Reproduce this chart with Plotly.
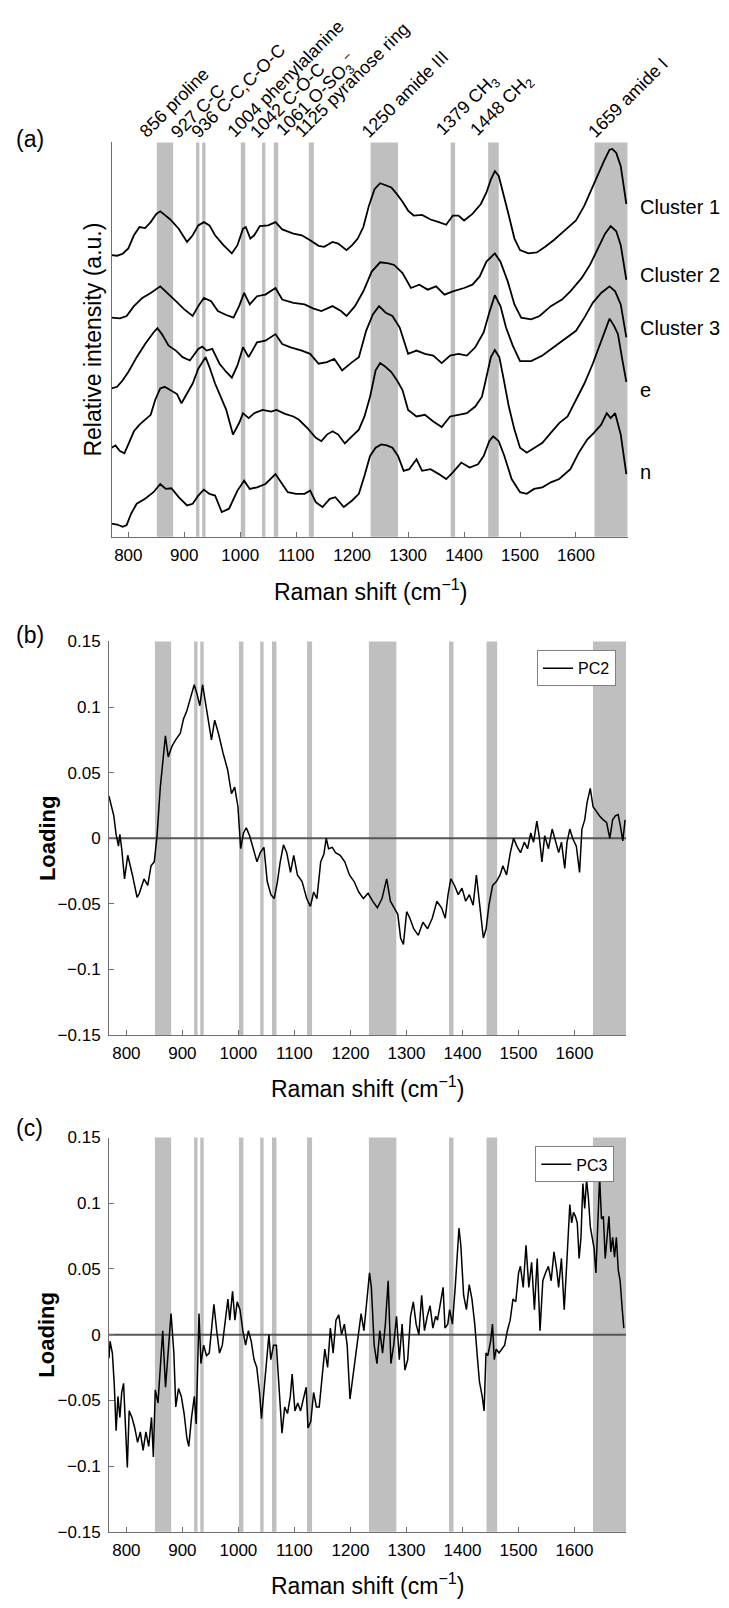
import plotly.graph_objects as go

# ---------------- data ----------------
# shaded Raman bands (cm-1)
band_lo = [851, 921, 932, 1001, 1039, 1060, 1122.5, 1233, 1376, 1443, 1633]
band_hi = [880, 927, 938, 1009, 1045, 1068, 1131.5, 1282, 1384, 1462, 1692]
peak_wn = [856, 927, 936, 1004, 1042, 1061, 1125, 1250, 1379, 1448, 1659]
peak_names = ["proline", "C-C", "C-C,C-O-C", "phenylalanine", "C-O-C",
              "O-SO<sub>3</sub><sup>−</sup>", "pyranose ring", "amide III",
              "CH<sub>3</sub>", "CH<sub>2</sub>", "amide I"]

spectrum_names = ["Cluster 1", "Cluster 2", "Cluster 3", "e", "n"]

# (wavenumber, relative intensity a.u.) – offset spectra as displayed
cluster1 = [(770,85.5),(780,85.3),(790,85.9),(800,87.5),(810,91.5),(820,94),(830,93.7),(840,95.5),(850,98),(857,98.8),
            (865,97.7),(875,96.3),(890,93.5),(905,89.5),(915,91.5),(925,94.5),(935,95.5),(945,94.5),(955,91.5),(970,88.5),
            (985,86),(995,88.5),(1005,93.5),(1010,94),(1018,90.5),(1025,91.5),(1035,94.3),(1050,94.5),(1063,95.5),(1075,93.3),
            (1095,92),(1110,91.5),(1125,90),(1140,88.3),(1150,88),(1165,89.5),(1175,89),(1190,87),(1200,88.5),(1210,90.5),
            (1220,94),(1230,100.5),(1240,105.5),(1250,107.3),(1260,106.7),(1270,106),(1280,104),(1290,101.7),(1300,99),(1310,97.5),
            (1325,97.7),(1340,96.3),(1355,95.5),(1368,94.7),(1380,97.5),(1390,97.5),(1400,96),(1415,98),(1430,101),(1440,104.5),
            (1448,108.5),(1455,111),(1462,109.5),(1470,104.5),(1480,97.5),(1490,90.5),(1500,87),(1515,86),(1530,86.3),(1545,88),
            (1560,90),(1580,93),(1600,96),(1615,100.5),(1630,106.5),(1640,110),(1650,114),(1660,117.5),(1665,117.7),(1672,116.5),
            (1680,112.5),(1690,101)]

cluster2 = [(770,66.5),(785,66.3),(797,67),(810,70),(825,72.5),(840,74),(857,76),(870,74),(885,71.5),(900,69),(915,67),
            (925,70),(935,72.5),(948,71.5),(960,68.5),(975,67.3),(988,66.5),(998,70),(1007,74),(1017,70.5),(1030,73),(1045,73.5),
            (1063,75.5),(1075,72),(1095,71),(1115,70.5),(1130,69.3),(1145,68.5),(1165,70),(1180,68.5),(1190,67),(1205,70),
            (1220,74.5),(1235,80.5),(1250,83.3),(1265,83),(1275,82.5),(1290,80),(1305,75.5),(1320,76.5),(1335,75),(1350,76),
            (1365,73.5),(1380,74.5),(1400,75.5),(1415,76.5),(1428,79),(1440,83.5),(1455,86),(1465,83.5),(1478,77.5),(1490,70.5),
            (1502,66.5),(1520,66),(1535,67),(1555,70),(1575,72),(1590,74.5),(1610,78.5),(1625,82.5),(1640,88),(1652,92),
            (1662,94.3),(1672,92.7),(1680,88.5),(1690,78)]

cluster3 = [(770,45),(780,45.5),(790,47.5),(800,50),(815,54.5),(830,58.5),(845,62),(852,63.3),(860,61.5),(872,58),(885,56.5),
            (897,54.5),(910,53.5),(925,57),(932,57.7),(940,56.5),(950,57),(963,52.5),(975,50),(985,48.3),(995,52),(1005,57.5),
            (1015,54.5),(1030,59),(1045,59.5),(1063,61.5),(1075,58.5),(1090,57.5),(1110,56.5),(1125,55.5),(1140,52.5),(1155,53),
            (1168,54),(1182,50.5),(1200,53),(1212,54.5),(1225,62.5),(1237,67.5),(1248,70),(1260,68),(1272,67),(1285,63.5),
            (1300,55.5),(1315,56.5),(1330,55.5),(1345,55),(1360,52.7),(1375,55),(1390,55.5),(1405,55),(1420,57.5),(1435,62),
            (1445,68),(1455,73.3),(1465,70),(1475,63.5),(1487,58),(1500,53.3),(1520,53.3),(1540,55),(1560,57.5),(1580,60),
            (1600,62.5),(1615,66.5),(1630,71),(1645,74),(1660,76),(1670,74.5),(1680,70.5),(1690,60.5)]

spec_e = [(770,27),(777,27.7),(785,26),(793,25.3),(800,28),(810,32),(820,34),(830,35.5),(840,37),(848,41.5),(857,45),
          (865,45.5),(875,44.5),(887,43.3),(895,40.5),(905,43.5),(915,46.5),(925,51),(930,52.5),(938,54.5),(945,51.5),
          (955,46.5),(965,42.5),(975,38.5),(987,31),(998,34.5),(1005,37.5),(1015,36),(1025,37.5),(1040,38.5),(1055,38),
          (1065,38.5),(1080,37.3),(1095,36.5),(1105,35.5),(1120,33),(1135,30),(1145,29),(1155,31),(1165,32),(1175,31),
          (1187,28.3),(1200,30.5),(1212,32.5),(1222,36.5),(1232,42.5),(1242,50.5),(1250,52.7),(1260,51.5),(1270,50),
          (1280,47.5),(1290,44.5),(1300,38.5),(1315,36.5),(1330,37),(1345,35),(1360,33.3),(1375,36.5),(1390,37),(1405,37.5),
          (1420,39.5),(1432,42.5),(1440,48.5),(1448,54.5),(1455,56.7),(1463,54.5),(1470,48.5),(1480,39.5),(1490,32.5),
          (1500,27),(1512,25.5),(1525,27),(1540,28.5),(1555,31.5),(1570,34.5),(1585,36.5),(1600,41.5),(1615,46.5),
          (1630,52.5),(1642,58),(1652,63),(1660,66.2),(1668,64),(1675,61.5),(1682,54.5),(1690,47)]

spec_n = [(770,4),(780,3.7),(790,3),(797,3.5),(805,7),(815,10),(830,11.5),(845,13.5),(857,16),(867,14.5),(877,14.7),
          (890,12),(905,9.5),(915,10),(925,12.5),(935,14.3),(945,13),(955,12.5),(967,7.5),(980,8.5),(995,14),(1007,17),
          (1017,14.5),(1030,15),(1045,16),(1063,19),(1075,16),(1085,13.5),(1100,13),(1115,13),(1125,14),(1135,10.5),
          (1147,9),(1160,11.5),(1170,12),(1185,9),(1200,11),(1212,13),(1222,18.5),(1232,24.5),(1242,27),(1252,28),
          (1262,27.7),(1272,27),(1282,24.5),(1292,20),(1302,20.5),(1315,23.5),(1325,20),(1340,20.5),(1355,19),(1368,17.5),
          (1380,19.5),(1395,22.5),(1410,21),(1425,22),(1435,24.5),(1445,29),(1452,30.5),(1462,29),(1472,24.5),(1485,17.5),
          (1500,13.5),(1512,13),(1525,14.5),(1540,15),(1555,16.5),(1570,17.5),(1590,20.5),(1605,25.5),(1620,29.5),
          (1632,31.5),(1645,34),(1655,37.5),(1662,36),(1670,37.5),(1680,31),(1690,19)]

# (wavenumber, loading)
pc2 = [(769,0.032),(773.4,0.024),(777.6,0.017),(781.7,0.003),(785.9,-0.006),(788.4,0.003),(791.7,-0.008),(796.7,-0.031),
       (802.5,-0.013),(810.8,-0.028),(819.1,-0.045),(823.2,-0.042),(831.5,-0.031),(838.2,-0.036),(844,-0.021),(849.8,-0.018),
       (854.8,0.002),(860.6,0.039),(866.4,0.067),(869.7,0.078),(874.7,0.062),(881.3,0.07),(888,0.075),(896.3,0.08),
       (902.1,0.091),(907.9,0.097),(914.5,0.107),(921.2,0.117),(926.1,0.11),(931.1,0.101),(936.1,0.117),(943.6,0.097),
       (951.9,0.075),(957.7,0.09),(964.3,0.08),(972.6,0.065),(980.9,0.052),(987.6,0.034),(993.4,0.039),(999.2,0.024),
       (1004.1,-0.008),(1009.1,0.004),(1014.1,0.008),(1019.9,0.002),(1026.6,-0.008),(1033.2,-0.018),(1039,-0.011),
       (1045.6,-0.007),(1051.5,-0.033),(1058.1,-0.043),(1063.9,-0.046),(1069.7,-0.033),(1074.7,-0.018),(1080.5,-0.005),
       (1086.3,-0.011),(1093,-0.026),(1098.8,-0.013),(1105.4,-0.028),(1113.7,-0.033),(1122,-0.046),(1128.6,-0.052),
       (1134.4,-0.041),(1140.2,-0.046),(1146.9,-0.018),(1152.7,-0.012),(1156.8,0.0),(1161,-0.008),(1167.6,-0.007),
       (1173.4,-0.011),(1181.7,-0.013),(1190,-0.018),(1198.3,-0.028),(1206.6,-0.033),(1214.9,-0.041),(1223.2,-0.046),
       (1231.5,-0.042),(1239.8,-0.048),(1248.1,-0.053),(1256.4,-0.046),(1264.7,-0.031),(1271.4,-0.048),(1278,-0.053),
       (1284.6,-0.058),(1289.6,-0.076),(1294.6,-0.081),(1300.4,-0.056),(1306.2,-0.061),(1312.9,-0.069),(1321.2,-0.074),
       (1329.5,-0.064),(1337.8,-0.069),(1346.1,-0.061),(1354.4,-0.048),(1362.7,-0.053),(1369.3,-0.061),(1374.3,-0.043),
       (1379.3,-0.031),(1385.9,-0.036),(1392.5,-0.043),(1399.2,-0.038),(1405.8,-0.048),(1412.4,-0.043),(1419.1,-0.051),
       (1424.9,-0.028),(1430.7,-0.053),(1437.3,-0.076),(1442.3,-0.069),(1447.3,-0.051),(1453.9,-0.036),(1460.6,-0.033),
       (1467.2,-0.028),(1472.2,-0.021),(1478.8,-0.028),(1485.5,-0.011),(1491.3,0.0),(1497.1,-0.006),(1503.7,-0.011),
       (1510.4,-0.003),(1516.2,-0.008),(1522,0.004),(1527,-0.003),(1532.8,0.013),(1536.9,0.002),(1541.9,-0.018),
       (1546.9,0.002),(1553.5,-0.008),(1560.2,0.007),(1566,-0.003),(1571.8,-0.011),(1576.8,-0.003),(1582.6,-0.023),
       (1586.7,-0.003),(1591.7,0.007),(1596.7,0.0),(1603.3,-0.006),(1609.1,-0.026),(1613.3,0.007),(1618.3,0.014),
       (1622.4,0.027),(1628.2,0.038),(1633.2,0.024),(1638.2,0.021),(1644.8,0.017),(1651.5,0.014),(1657.3,0.012),
       (1663.1,0.0),(1668.1,0.014),(1673,0.017),(1678,0.018),(1682.1,0.009),(1686.3,-0.002),(1690.4,0.014)]

pc3 = [(769,-0.018),(770.9,-0.005),(775,-0.014),(778.4,-0.038),(781.7,-0.073),(785,-0.047),(788.4,-0.063),(791.7,-0.044),
       (795,-0.037),(798.3,-0.074),(801.7,-0.101),(805,-0.058),(810,-0.063),(815,-0.071),(820,-0.082),(824.9,-0.074),
       (829.9,-0.088),(834.9,-0.074),(839.9,-0.085),(844.9,-0.063),(848.2,-0.093),(851.6,-0.042),(856.5,-0.052),
       (861.5,-0.019),(864.9,0.003),(869.9,-0.04),(874.8,-0.011),(879.8,0.016),(884.8,-0.014),(888.2,-0.055),(893.1,-0.041),
       (898.1,-0.047),(903.1,-0.06),(908.1,-0.079),(911.4,-0.085),(916.4,-0.063),(921.4,-0.047),(924.7,-0.068),(929.7,0.016),
       (933.1,-0.022),(938,-0.008),(943,-0.016),(948,-0.014),(953,0.008),(956.3,0.023),(961.3,0.003),(966.3,-0.014),
       (971.3,-0.008),(976.3,0.011),(981.3,0.027),(984.6,0.011),(989.6,0.033),(993.8,0.011),(997.9,0.025),(1002.9,0.019),
       (1007.9,0.003),(1012.9,-0.008),(1017.9,0.003),(1022.9,-0.005),(1027.9,-0.019),(1032.8,-0.025),(1037.8,-0.044),
       (1041.2,-0.064),(1044.5,-0.047),(1049.5,-0.025),(1054.5,0.0),(1057.8,-0.019),(1062.8,-0.008),(1067.8,-0.008),
       (1072.8,-0.041),(1077.8,-0.075),(1082.7,-0.055),(1087.7,-0.06),(1092.7,-0.047),(1096,-0.03),(1101,-0.058),
       (1106,-0.052),(1111,-0.058),(1116,-0.049),(1121,-0.04),(1124.3,-0.071),(1129.3,-0.066),(1134.3,-0.044),
       (1139.3,-0.055),(1144.3,-0.055),(1149.3,-0.03),(1154.3,-0.011),(1159.3,-0.025),(1164.2,0.005),(1169.2,-0.014),
       (1174.2,0.011),(1179.2,0.015),(1184.2,0.0),(1189.2,0.008),(1194.2,-0.008),(1199.2,-0.049),(1204.2,-0.033),
       (1209.1,-0.016),(1214.1,-0.003),(1219.1,0.016),(1224.1,0.003),(1229.1,0.025),(1234.1,0.047),(1237.4,0.036),
       (1242.4,-0.008),(1247.4,-0.022),(1252.4,0.003),(1257.4,-0.014),(1262.4,0.008),(1267.4,0.041),(1272.3,-0.022),
       (1277.3,-0.008),(1282.3,0.014),(1287.3,-0.019),(1292.3,0.008),(1297.3,-0.027),(1302.3,-0.019),(1307.3,0.014),
       (1312.3,0.025),(1317.3,0.008),(1322.2,0.0),(1327.2,0.03),(1332.2,0.003),(1337.2,0.014),(1342.2,0.022),
       (1347.2,0.005),(1352.2,0.014),(1355.5,0.011),(1360.5,0.025),(1365.5,0.036),(1368.8,0.005),(1373.8,0.008),
       (1377.1,0.019),(1382.1,0.008),(1387.1,0.036),(1392.1,0.071),(1393.8,0.081),(1397.1,0.068),(1402.1,0.03),
       (1407.1,0.019),(1412.1,0.038),(1417,0.027),(1422,0.008),(1427,-0.019),(1430.4,-0.036),(1435.3,-0.047),
       (1438.7,-0.058),(1442,-0.014),(1445.3,-0.016),(1450.3,-0.005),(1453.6,0.008),(1456.9,-0.019),(1460.3,-0.011),
       (1465.3,-0.014),(1470.3,-0.011),(1475.3,-0.008),(1480.2,0.003),(1485.2,0.011),(1490.2,0.027),(1495.2,0.025),
       (1500.2,0.047),(1503.5,0.052),(1508.5,0.036),(1513.5,0.068),(1518.5,0.036),(1523.5,0.055),(1528.5,0.019),
       (1533.5,0.058),(1538.5,0.003),(1543.5,0.041),(1548.4,0.047),(1553.4,0.052),(1558.4,0.041),(1563.4,0.063),
       (1568.4,0.049),(1571.7,0.036),(1576.7,0.058),(1581.7,0.019),(1586.7,0.058),(1591.7,0.099),(1595,0.085),
       (1598.3,0.093),(1601.7,0.09),(1605,0.085),(1608.3,0.058),(1611.6,0.074),(1615,0.115),(1618.3,0.096),
       (1621.6,0.118),(1624.9,0.104),(1628.3,0.082),(1631.6,0.074),(1634.9,0.066),(1638.3,0.047),(1641.6,0.079),
       (1644.9,0.12),(1648.2,0.088),(1651.6,0.09),(1654.9,0.058),(1658.2,0.074),(1661.5,0.09),(1664.9,0.063),
       (1668.2,0.074),(1671.5,0.059),(1674.8,0.074),(1678.2,0.049),(1681.5,0.041),(1684.8,0.022),(1688.1,0.005)]

x_ticks = [800, 900, 1000, 1100, 1200, 1300, 1400, 1500, 1600]
loading_ticks = [-0.15, -0.1, -0.05, 0, 0.05, 0.1, 0.15]

# ---------------- style / layout ----------------
W, H = 729, 1608
FONT = "Liberation Sans, Arial, Helvetica, sans-serif"
AX = "#6e6e6e"
BAND = "#bfbfbf"

def px_x(p):
    return p / W

def px_y(p):
    return 1 - p / H

dom = {
    "a": ([px_x(111.7), px_x(628.3)], [px_y(534), px_y(135)]),
    "b": ([px_x(109), px_x(626)], [px_y(1038.3), px_y(640)]),
    "c": ([px_x(109), px_x(626)], [px_y(1541), px_y(1142)]),
}

fig = go.Figure()

spectra = [cluster1, cluster2, cluster3, spec_e, spec_n]
for name, s in zip(spectrum_names, spectra):
    fig.add_trace(go.Scatter(x=[p[0] for p in s], y=[p[1] for p in s], mode="lines",
                             line=dict(color="black", width=1.8), name=name,
                             showlegend=False, xaxis="x", yaxis="y"))

fig.add_trace(go.Scatter(x=[p[0] for p in pc2], y=[p[1] for p in pc2], mode="lines",
                         line=dict(color="black", width=1.5), name="PC2",
                         xaxis="x2", yaxis="y2", legend="legend"))
fig.add_trace(go.Scatter(x=[p[0] for p in pc3], y=[p[1] for p in pc3], mode="lines",
                         line=dict(color="black", width=1.5), name="PC3",
                         xaxis="x3", yaxis="y3", legend="legend2"))

shapes = []
for xr, yr in (("x", "y"), ("x2", "y2"), ("x3", "y3")):
    for lo, hi in zip(band_lo, band_hi):
        shapes.append(dict(type="rect", xref=xr, yref=yr + " domain", x0=lo, x1=hi, y0=0, y1=1,
                           fillcolor=BAND, line=dict(width=0), layer="below"))
for xr, yr in (("x2", "y2"), ("x3", "y3")):
    shapes.append(dict(type="line", xref=xr + " domain", yref=yr, x0=0, x1=1, y0=0, y1=0,
                       line=dict(color="#555555", width=2), layer="below"))

tickfont = dict(family=FONT, size=17, color="black")
xcommon = dict(tickvals=x_ticks, ticks="inside", ticklen=5, tickcolor=AX, showline=True,
               linecolor=AX, linewidth=1, showgrid=False, zeroline=False, tickfont=tickfont,
               ticklabelstandoff=3)
ycommon = dict(tickvals=loading_ticks, range=[-0.15, 0.15], ticks="inside", ticklen=5, tickcolor=AX,
               showline=True, linecolor=AX, linewidth=1, showgrid=False, zeroline=False,
               tickfont=tickfont, ticklabelstandoff=4)

annotations = []

def centered(text, xp, yp, size, angle=0, bold=False):
    return dict(text=f"<b>{text}</b>" if bold else text, x=px_x(xp), y=px_y(yp),
                xref="paper", yref="paper", xanchor="center", yanchor="middle",
                showarrow=False, textangle=angle,
                font=dict(family=FONT, size=size, color="black"))

# panel labels
for lab, xp, yp in (("(a)", 30, 132), ("(b)", 29.5, 633), ("(c)", 29.5, 1132)):
    annotations.append(centered(lab, xp, yp, 23))
# axis titles
xtitle = "Raman shift (cm<sup>−1</sup>)"
for yp, xc in ((588, 370), (1091, 367.5), (1594, 367.5)):
    annotations.append(centered(xtitle, xc, yp, 23))
annotations.append(centered("Relative intensity (a.u.)", 93, 334.5, 23, angle=-90))
for yc in (839, 1341.5):
    annotations.append(centered("Loading", 47, yc, 22, angle=-90, bold=True))
# right-hand spectrum labels
label_y = [100, 79.3, 63.3, 44.5, 19.5]
for name, yv in zip(spectrum_names, label_y):
    annotations.append(dict(text=name, x=px_x(638), y=yv, xref="paper", yref="y",
                            xanchor="left", yanchor="middle", showarrow=False,
                            font=dict(family=FONT, size=20, color="black")))
# rotated peak labels
label_shift = [-27, -35, -20, -22, -20, -7, -22, -25, -23, -27, -28]
top_a = dom["a"][1][1]
for wn, nm, sh in zip(peak_wn, peak_names, label_shift):
    annotations.append(dict(text=f"{wn} {nm}", x=wn, y=top_a, xref="x", yref="paper",
                            xanchor="left", yanchor="bottom", xshift=sh, yshift=-2,
                            textangle=-45, showarrow=False,
                            font=dict(family=FONT, size=18, color="black")))

legend_style = dict(xanchor="right", yanchor="top", bordercolor="#808080", borderwidth=1,
                    bgcolor="white", font=dict(family=FONT, size=16, color="black"),
                    itemwidth=30, tracegroupgap=0)

fig.update_layout(
    width=W, height=H, margin=dict(l=0, r=0, t=0, b=0),
    paper_bgcolor="white", plot_bgcolor="white",
    font=dict(family=FONT, color="black"),
    xaxis=dict(domain=dom["a"][0], range=[770.3, 1693.5], anchor="y", **xcommon),
    yaxis=dict(domain=dom["a"][1], range=[0, 119.7], anchor="x", showticklabels=False, ticks="",
               showline=True, linecolor=AX, linewidth=1, showgrid=False, zeroline=False),
    xaxis2=dict(domain=dom["b"][0], range=[769, 1692], anchor="y2", **xcommon),
    yaxis2=dict(domain=dom["b"][1], anchor="x2", **ycommon),
    xaxis3=dict(domain=dom["c"][0], range=[769, 1692], anchor="y3", **xcommon),
    yaxis3=dict(domain=dom["c"][1], anchor="x3", **ycommon),
    legend=dict(x=px_x(616), y=px_y(649), **legend_style),
    legend2=dict(x=px_x(614.3), y=px_y(1151), **legend_style),
    shapes=shapes, annotations=annotations,
)

fig.write_html("out.html")
